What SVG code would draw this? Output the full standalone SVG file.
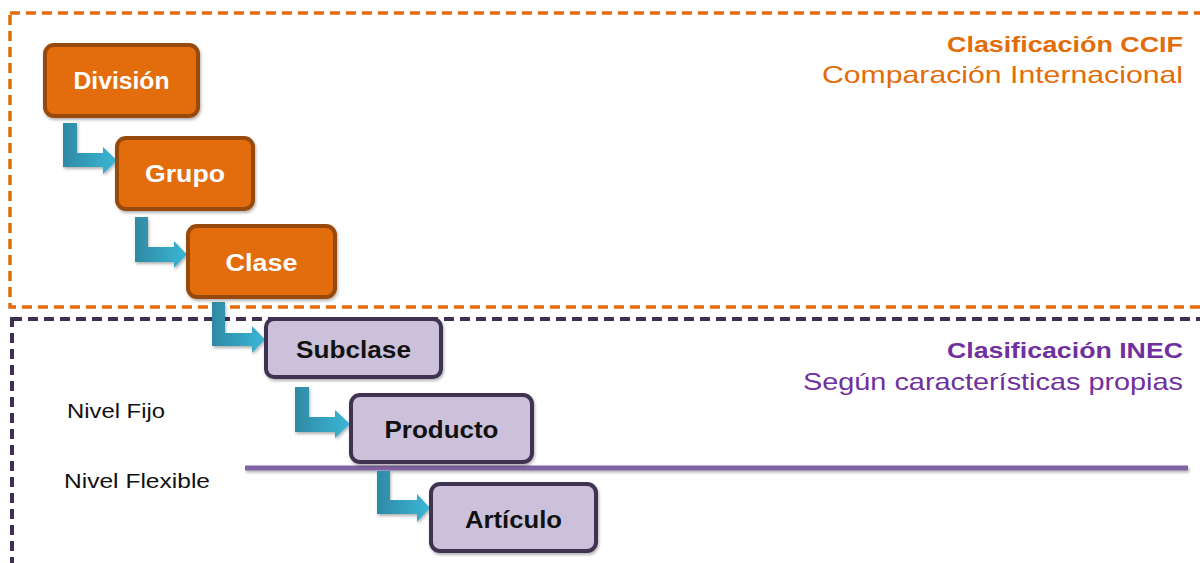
<svg xmlns="http://www.w3.org/2000/svg" width="1200" height="563" viewBox="0 0 1200 563">
<style>
.frame{fill:none;stroke-dasharray:10 6}
.onode{fill:#e36c0a;stroke:#984807;stroke-width:4}
.pnode{fill:#ccc1da;stroke:#3f3151;stroke-width:4}
.lbl{font-family:"Liberation Sans",Arial,sans-serif;font-weight:bold;font-size:23px;text-anchor:middle}
.wl{fill:#ffffff}
.bl{fill:#111111}
.title{font-family:"Liberation Sans",Arial,sans-serif;text-anchor:end}
.side{font-family:"Liberation Sans",Arial,sans-serif;font-size:20px;fill:#111111}
.arrow{fill:url(#ag);filter:url(#sh)}
</style>
<defs>
<linearGradient id="ag" x1="0" y1="0" x2="1" y2="0">
<stop offset="0" stop-color="#2e8aa5"/>
<stop offset="1" stop-color="#3cb6d6"/>
</linearGradient>
<filter id="sh" x="-20%" y="-20%" width="150%" height="150%">
<feDropShadow dx="1" dy="2" stdDeviation="1.5" flood-color="#000" flood-opacity="0.3"/>
</filter>
<filter id="lsh" x="-5%" y="-100%" width="110%" height="400%">
<feDropShadow dx="1" dy="2" stdDeviation="1.5" flood-color="#000" flood-opacity="0.3"/>
</filter>
</defs>
<rect class="frame" x="10" y="13" width="1200" height="294" stroke="#e36c0a" stroke-width="3.5"/>
<rect class="frame" x="12" y="319" width="1200" height="260" stroke="#403152" stroke-width="4"/>
<g id="titles">
<text class="title" x="1183" y="52" font-size="22" font-weight="bold" fill="#e36c0a" textLength="236" lengthAdjust="spacingAndGlyphs">Clasificación CCIF</text>
<text class="title" x="1183" y="83" font-size="24" fill="#e36c0a" textLength="361" lengthAdjust="spacingAndGlyphs">Comparación Internacional</text>
<text class="title" x="1183" y="358" font-size="22" font-weight="bold" fill="#7030a0" textLength="236" lengthAdjust="spacingAndGlyphs">Clasificación INEC</text>
<text class="title" x="1183" y="390" font-size="24" fill="#7030a0" textLength="380" lengthAdjust="spacingAndGlyphs">Según características propias</text>
</g>
<text class="side" x="67" y="418" textLength="98" lengthAdjust="spacingAndGlyphs">Nivel Fijo</text>
<text class="side" x="64" y="488" textLength="146" lengthAdjust="spacingAndGlyphs">Nivel Flexible</text>
<rect x="245" y="465.5" width="943" height="5" fill="#8064a2" filter="url(#lsh)"/>
<g id="connectors">
<path class="arrow" d="M63,123 H77 V153 H103 V147 L117,160.5 L103,174 V167 H63 Z"/>
<path class="arrow" d="M135,217 H148 V247 H174 V241 L187,254.5 L174,268 V262 H135 Z"/>
<path class="arrow" d="M212,302 H225 V333 H252 V326 L265,339.5 L252,353 V346 H212 Z"/>
<path class="arrow" d="M295,387 H309 V417 H335 V410 L350,424 L335,438 V432 H295 Z"/>
<path class="arrow" d="M377,471 H390 V500 H417 V494 L430,508 L417,522 V514 H377 Z"/>
</g>
<g id="division">
<rect class="onode" x="45" y="45" width="153" height="71" rx="9" filter="url(#sh)"/>
<text class="lbl wl" x="121.5" y="89" textLength="96" lengthAdjust="spacingAndGlyphs">División</text>
</g>
<g id="grupo">
<rect class="onode" x="117" y="138" width="136" height="71" rx="9" filter="url(#sh)"/>
<text class="lbl wl" x="185" y="182" textLength="80" lengthAdjust="spacingAndGlyphs">Grupo</text>
</g>
<g id="clase">
<rect class="onode" x="188" y="226" width="147" height="71" rx="9" filter="url(#sh)"/>
<text class="lbl wl" x="261.5" y="271" textLength="72" lengthAdjust="spacingAndGlyphs">Clase</text>
</g>
<g id="subclase">
<rect class="pnode" x="266" y="319" width="175" height="58" rx="8" filter="url(#sh)"/>
<text class="lbl bl" x="353.5" y="358" textLength="115" lengthAdjust="spacingAndGlyphs">Subclase</text>
</g>
<g id="producto">
<rect class="pnode" x="351" y="395" width="181" height="67" rx="9" filter="url(#sh)"/>
<text class="lbl bl" x="441.5" y="438" textLength="114" lengthAdjust="spacingAndGlyphs">Producto</text>
</g>
<g id="articulo">
<rect class="pnode" x="431" y="484" width="165" height="67" rx="9" filter="url(#sh)"/>
<text class="lbl bl" x="513.5" y="528" textLength="97" lengthAdjust="spacingAndGlyphs">Artículo</text>
</g>
</svg>
